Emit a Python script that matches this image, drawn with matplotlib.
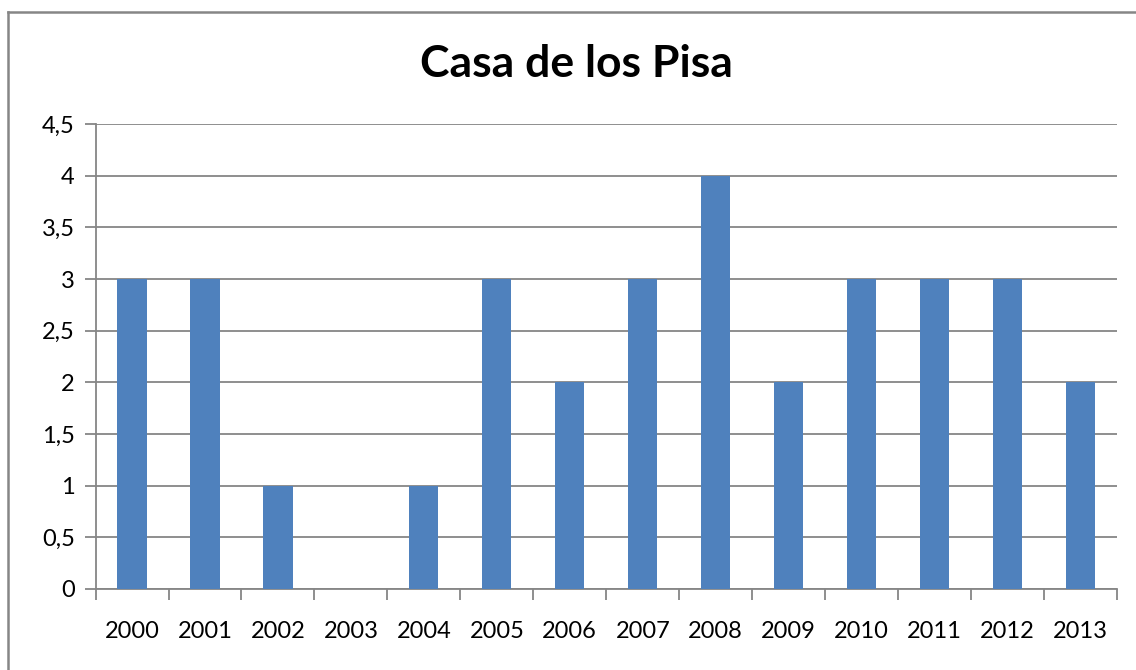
import matplotlib
matplotlib.use("Agg")
import matplotlib.pyplot as plt
from matplotlib.lines import Line2D
from matplotlib.ticker import FixedLocator, FuncFormatter
import numpy as np

years = ["2000", "2001", "2002", "2003", "2004", "2005", "2006",
         "2007", "2008", "2009", "2010", "2011", "2012", "2013"]
values = [3, 3, 1, 0, 1, 3, 2, 3, 4, 2, 3, 3, 3, 2]
y_ticks = [0, 0.5, 1, 1.5, 2, 2.5, 3, 3.5, 4, 4.5]

plt.rcParams["font.family"] = ["Lato", "DejaVu Sans"]

fig = plt.figure(figsize=(11.36, 6.7), dpi=100)
ax = fig.add_axes([0.0841, 0.1209, 0.8992, 0.694])

x = np.arange(len(years))
ax.bar(x, values, width=0.4, color="#4F81BD", zorder=3)

ax.set_xlim(-0.5, len(years) - 0.5)
ax.set_ylim(0, 4.5)

ax.set_yticks(y_ticks)
ax.yaxis.set_major_formatter(FuncFormatter(lambda v, p: f"{v:g}".replace(".", ",")))
ax.yaxis.grid(True, color="#868686", linewidth=1.3, zorder=0)

ax.set_xticks(x)
ax.set_xticklabels(years)
ax.xaxis.set_minor_locator(FixedLocator(np.arange(-0.5, len(years), 1.0)))
ax.tick_params(axis="x", which="major", length=0, pad=23, labelsize=17)
ax.tick_params(axis="x", which="minor", length=8, width=1.3, color="#868686", direction="out")
ax.tick_params(axis="y", length=8, width=1.3, color="#868686", labelsize=17, pad=7)

for side in ["top", "right"]:
    ax.spines[side].set_visible(False)
for side in ["left", "bottom"]:
    ax.spines[side].set_color("#868686")
    ax.spines[side].set_linewidth(1.3)

fig.text(576 / 1136, 0.905, "Casa de los Pisa", ha="center", va="center",
         fontsize=32, fontweight="bold")

# chart frame (only left and top edges are visible in the crop)
fig.add_artist(Line2D([7.5 / 1136, 7.5 / 1136], [0, 1 - 12 / 670], color="#868686",
                      linewidth=1.8, transform=fig.transFigure))
fig.add_artist(Line2D([7.5 / 1136, 1], [1 - 12 / 670, 1 - 12 / 670], color="#868686",
                      linewidth=1.8, transform=fig.transFigure))

fig.savefig("out.png", dpi=100)
